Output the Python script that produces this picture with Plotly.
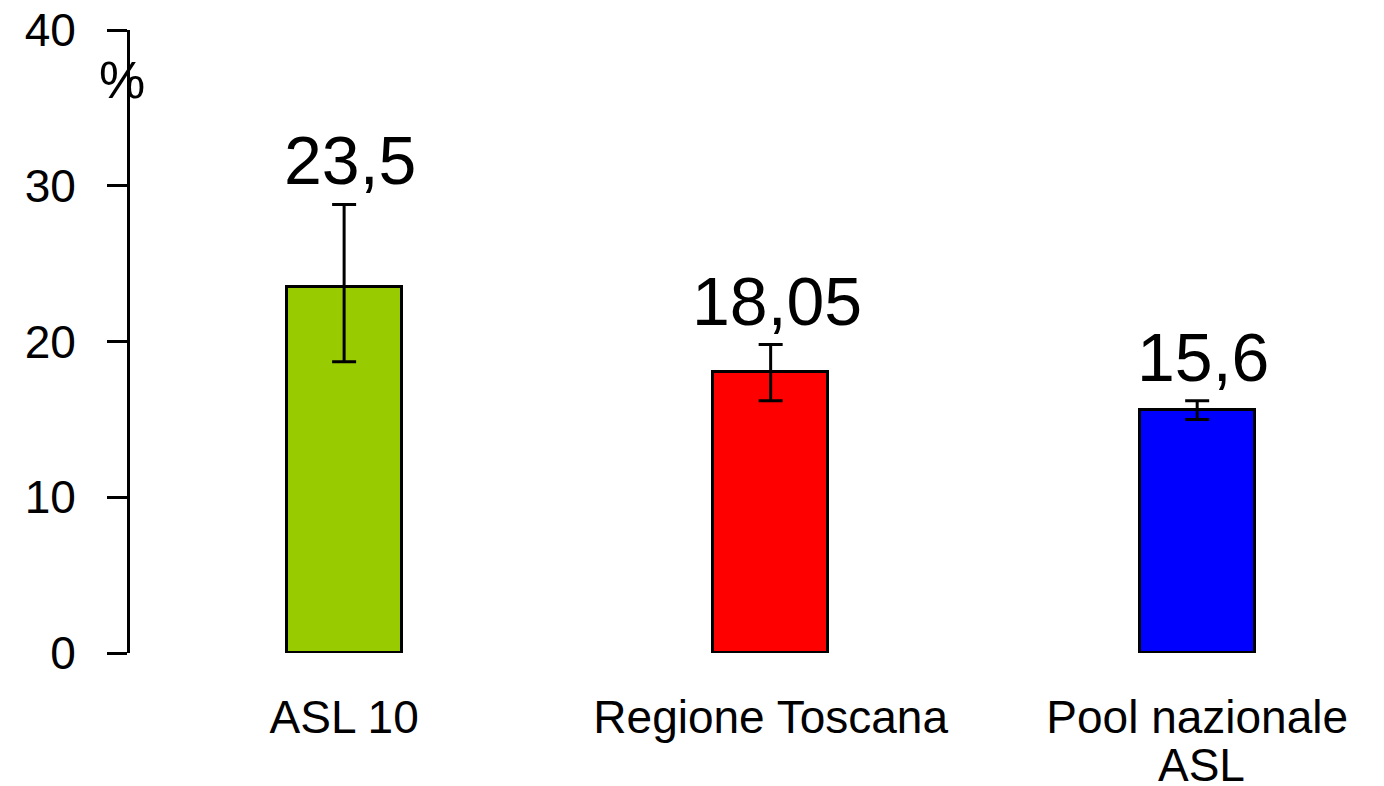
import plotly.graph_objects as go

categories = ["ASL 10", "Regione Toscana", "Pool nazionale<br>ASL"]
values = [23.5, 18.05, 15.6]
value_labels = ["23,5", "18,05", "15,6"]
err_upper = [28.8, 19.8, 16.2]
err_lower = [18.7, 16.2, 15.0]
colors = ["#99CC00", "#FF0000", "#0000FF"]
y_ticks = [0, 10, 20, 30, 40]

xpos = list(range(len(categories)))
err_plus = [u - v for u, v in zip(err_upper, values)]
err_minus = [v - l for v, l in zip(values, err_lower)]
first_lines = [c.split("<br>")[0] for c in categories]
extra_lines = [c.split("<br>")[1:] for c in categories]

FONT = "Liberation Sans, Arial, sans-serif"
CAT_SIZE = 46

fig = go.Figure()
fig.add_trace(go.Bar(
    x=xpos, y=values, width=0.27,
    marker=dict(color=colors, line=dict(color="black", width=3)),
    error_y=dict(type="data", symmetric=False, array=err_plus, arrayminus=err_minus,
                 color="black", thickness=3, width=12),
    showlegend=False, hoverinfo="skip",
))

for x, up, lab in zip(xpos, err_upper, value_labels):
    fig.add_annotation(x=x, y=up, text=lab, showarrow=False, xanchor="center",
                       yanchor="bottom", yshift=4, xshift=6,
                       font=dict(family=FONT, size=68, color="black"))

# continuation lines of multi-line category labels
for x, lines in zip(xpos, extra_lines):
    for i, line in enumerate(lines):
        fig.add_annotation(x=x, xref="x", y=0, yref="paper", text=line, showarrow=False,
                           xanchor="center", yanchor="middle", yshift=-112 - 48 * i, xshift=4,
                           font=dict(family=FONT, size=CAT_SIZE, color="black"))

fig.add_annotation(x=-0.0064, xref="paper", y=0.92, yref="paper", text="%", showarrow=False,
                   xanchor="center", yanchor="middle",
                   font=dict(family=FONT, size=52, color="black"))

fig.update_layout(
    width=1376, height=778,
    margin=dict(l=122, r=0, t=22, b=133),
    paper_bgcolor="white", plot_bgcolor="white",
    font=dict(family=FONT, size=44, color="black"),
    bargap=0,
)
fig.update_xaxes(
    range=[-0.502, 2.438], tickvals=xpos, ticktext=first_lines,
    showline=False, showgrid=False, zeroline=False, ticks="",
    tickfont=dict(family=FONT, size=CAT_SIZE, color="black"), ticklabelstandoff=33,
    automargin=False, ticklabeloverflow="allow",
)
fig.update_yaxes(
    range=[0, 40], tickvals=y_ticks, showline=True, linecolor="black", linewidth=3,
    ticks="outside", ticklen=20, tickwidth=3, tickcolor="black",
    showgrid=False, zeroline=False,
    tickfont=dict(family=FONT, size=46, color="black"), ticklabelstandoff=22,
    automargin=False, ticklabeloverflow="allow",
)

fig.write_html("out.html")
